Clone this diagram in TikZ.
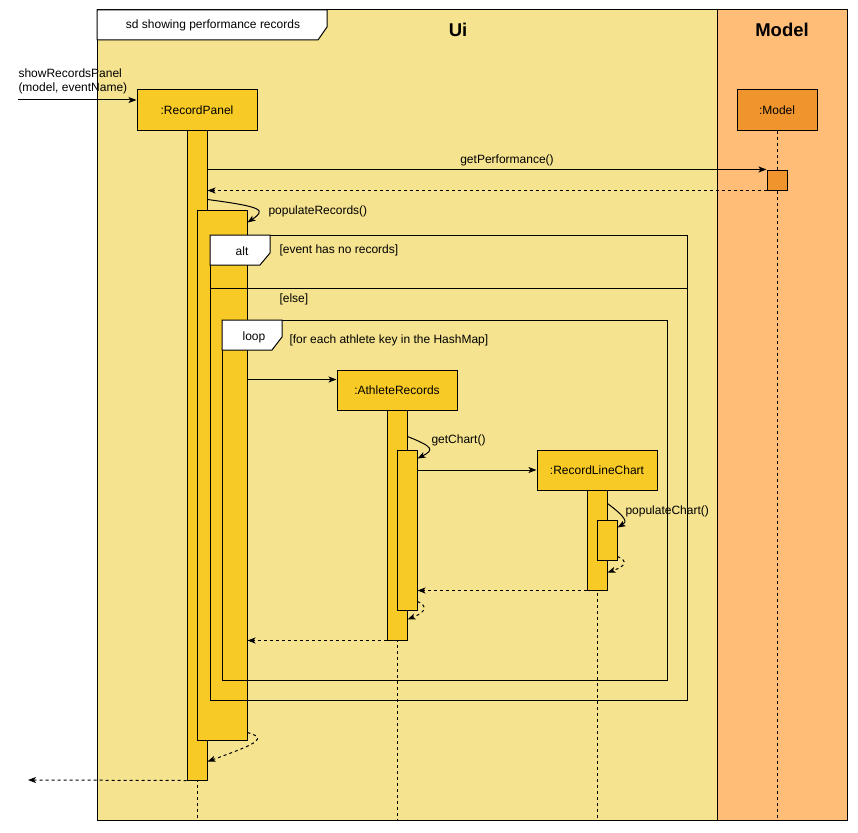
\documentclass[tikz,border=0pt]{standalone}
\usepackage{fontspec}
\setmainfont{Liberation Sans}
\usetikzlibrary{arrows.meta,calc}
\definecolor{uibg}{RGB}{245,227,143}
\definecolor{modelbg}{RGB}{255,189,120}
\definecolor{gold}{RGB}{248,202,38}
\definecolor{modelbox}{RGB}{240,149,46}
\begin{document}
\begin{tikzpicture}[x=1pt,y=-1pt,line width=1pt,
  lbl/.style={font=\fontsize{12}{14}\selectfont,inner sep=0pt},
  lbll/.style={lbl,anchor=west},
  title/.style={font=\fontsize{18.5}{20}\selectfont\bfseries,inner sep=0pt},
  obj/.style={draw,fill=gold,minimum width=120pt,minimum height=40pt,inner sep=0pt,font=\fontsize{12}{14}\selectfont},
  act/.style={draw,fill=gold,minimum width=20pt,inner sep=0pt},
  msg/.style={-{Stealth[length=8pt,width=6pt,inset=2pt]}},
  ret/.style={msg,dash pattern=on 3pt off 3pt},
  life/.style={dash pattern=on 3pt off 3pt},
  tab/.style={draw,fill=white}
  ]
\useasboundingbox (0,0) rectangle (858,832);
% pools
\draw[fill=uibg] (97,10) rectangle (717,820);
\draw[fill=modelbg] (717,10) rectangle (847,820);
\node[title] (uiT) at (458,30) {Ui};
\node[title] (mdT) at (782,30) {Model};
% sd tab
\draw[tab] (97,10) -- (327,10) -- (327,27) -- (318,40) -- (97,40) -- cycle;
\node[lbl] (sdT) at (213,25) {sd showing performance records};

% objects
\node[obj] (rp) at (197,110) {:RecordPanel};
\node[obj,fill=modelbox,minimum width=80pt] (md) at (777,110) {:Model};
\coordinate (rpEnd) at (197,820);
\coordinate (mdEnd) at (777,820);
\coordinate (arEnd) at (397,820);
\coordinate (lcEnd) at (597,820);
\draw[life] (rp.south) -- (rpEnd);
\draw[life] (md.south) -- (mdEnd);

% incoming
\coordinate (inS) at (18,100);
\node[lbll,align=left,anchor=south west] (inL) at (18,94) {showRecordsPanel\\(model, eventName)};
\draw[msg] (inS) -- (inS -| rp.west);

% activations RecordPanel
\node[act,minimum height=650pt] (rpA) at (197,455) {};
\node[act,minimum width=50pt,minimum height=530pt] (rpB) at (222,475) {};

% model activation
\node[act,fill=modelbox,minimum height=20pt] (mdA) at (777,180) {};
\draw[msg] (mdA.north west -| rpA.east) -- (mdA.north west);
\node[lbl] (gpL) at (507,160) {getPerformance()};
\draw[ret] (mdA.south west) -- (mdA.south west -| rpA.east);

% populateRecords self call
\draw[msg] ($(rpA.north east)+(0,70)$) .. controls (264,207) and (266,210) .. ($(rpB.north east)+(0,13)$);
\node[lbll] (prL) at (268,211) {populateRecords()};

% alt frame
\draw (210,235) rectangle (687,700);
\draw (210,288) -- (687,288);
\draw[tab] (210,235) -- (270,235) -- (270,253) -- (260,265) -- (210,265) -- cycle;
\node[lbl] (altL) at (242,251) {alt};
\node[lbll] (g1) at (279,250) {[event has no records]};
\node[lbll] (g2) at (279,299) {[else]};

% loop frame
\draw (222,320) rectangle (667,680);
\draw[tab] (222,320) -- (282,320) -- (282,337) -- (272,350) -- (222,350) -- cycle;
\node[lbl] (loopL) at (254,337) {loop};
\node[lbll] (g3) at (289,340) {[for each athlete key in the HashMap]};

% AthleteRecords
\node[obj] (ar) at (397,390) {:AthleteRecords};
\draw[life] (ar.south) -- (arEnd);
\coordinate (arIn) at ($(ar.north west)+(0,10)$);
\draw[msg] (arIn -| rpB.east) -- (arIn);
\node[act,minimum height=230pt] (arA) at (397,525) {};
\node[act,minimum height=160pt] (arB) at (407,530) {};
\draw[msg] ($(arA.north east)+(0,27)$) .. controls (434,447) and (434,450) .. ($(arB.north east)+(0,9)$);
\node[lbll] (gcL) at (431,440) {getChart()};

% RecordLineChart
\node[obj] (lc) at (597,470) {:RecordLineChart};
\draw[life] (lc.south) -- (lcEnd);
\draw[msg] (lc.west -| arB.east) -- (lc.west);
\node[act,minimum height=100pt] (lcA) at (597,540) {};
\node[act,minimum height=40pt] (lcB) at (607,540) {};
\draw[msg] ($(lcA.north east)+(0,14)$) .. controls (627,518) and (627,522) .. ($(lcB.north east)+(0,8)$);
\node[lbll] (pcL) at (625,511) {populateChart()};
\draw[ret] ($(lcB.south east)+(0,-4)$) .. controls (628,561) and (626,566) .. ($(lcA.north east)+(0,83)$);

% returns
\draw[ret] (lcA.south west) -- (lcA.south west -| arB.east);
\draw[ret] ($(arB.south east)+(0,-9)$) .. controls (428,606) and (426,612) .. ($(arA.north east)+(0,210)$);
\draw[ret] (arA.south west) -- (arA.south west -| rpB.east);
\draw[ret] ($(rpB.south east)+(0,-8)$) .. controls (266,738) and (262,742) .. ($(rpA.north east)+(0,632)$);
\coordinate (outE) at (28,780);
\draw[ret] (rpA.south west) -- (outE);
\end{tikzpicture}
\end{document}
